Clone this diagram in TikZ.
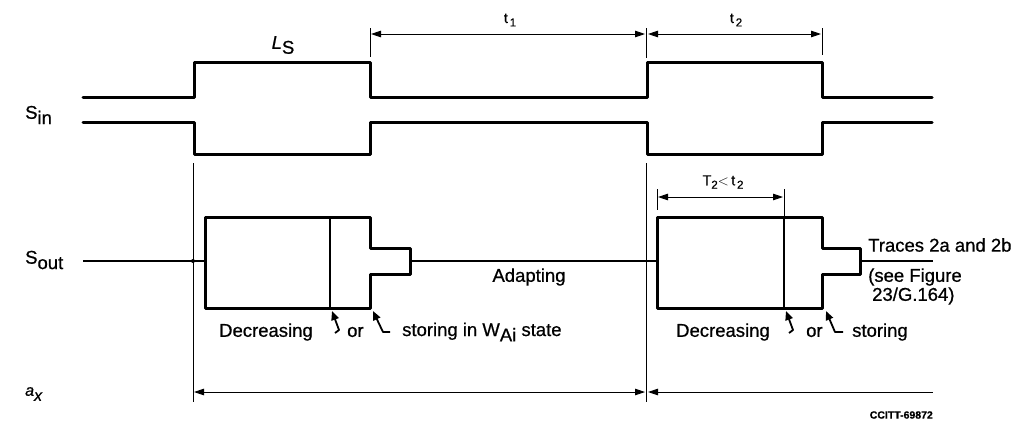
\documentclass[tikz,border=0pt]{standalone}
\usepackage{fontspec}
\setmainfont{Liberation Sans}[FakeBold=0.7]
\usetikzlibrary{arrows.meta}
\begin{document}
\begin{tikzpicture}[x=1pt,y=-1pt,
  sig/.style={line width=3pt,line join=round,line cap=round},
  thinline/.style={line width=1pt},
  outline/.style={line width=1.4pt},
  dimboth/.style={line width=0.9pt,{Triangle[length=10pt,width=6.5pt]}-{Triangle[length=10pt,width=6.5pt]}},
  dimleft/.style={line width=0.9pt,{Triangle[length=10pt,width=6.5pt]}-},
  hook/.style={line width=1.8pt,line join=round,{Triangle[length=9pt,width=7.5pt]}-},
  lbl/.style={font=\fontsize{18.5}{20}\selectfont,inner sep=0pt},
  sml/.style={font=\fontsize{14.5}{16}\selectfont,inner sep=0pt}]
\useasboundingbox (0,0) rectangle (1032,424);

% ---- S_in waveforms
\draw[sig] (83,97) -- (194,97) -- (194,62) -- (370,62) -- (370,97) -- (647,97) -- (647,62) -- (822,62) -- (822,97) -- (932,97);
\draw[sig] (83,122) -- (194,122) -- (194,154) -- (370,154) -- (370,122) -- (647,122) -- (647,154) -- (822,154) -- (822,122) -- (932,122);

% ---- ticks and dimension t1, t2
\coordinate (k1t) at (370,28); \coordinate (k1b) at (370,57);
\coordinate (k2t) at (646,28); \coordinate (k2b) at (646,58);
\coordinate (k3t) at (822,28); \coordinate (k3b) at (822,55);
\draw[thinline] (k1t) -- (k1b);
\draw[thinline] (k2t) -- (k2b);
\draw[thinline] (k3t) -- (k3b);
\coordinate (t1a) at (371,34); \coordinate (t1b) at (645,34);
\coordinate (t2a) at (648,34); \coordinate (t2b) at (821,34);
\draw[dimboth] (t1a) -- (t1b);
\draw[dimboth] (t2a) -- (t2b);
\node[sml] (t1) at (510,20) {t\raisebox{-0.45ex}{\fontsize{11.5}{12}\selectfont\,1}};
\node[sml] (t2) at (736,20) {t\raisebox{-0.45ex}{\fontsize{11.5}{12}\selectfont\,2}};
\node[lbl] (Ls) at (283,45) {\textit{L}\raisebox{-0.5ex}{S}};

% ---- vertical reference lines
\coordinate (v1t) at (193,163); \coordinate (v1b) at (193,402);
\coordinate (v2t) at (646,163); \coordinate (v2b) at (646,402);
\draw[thinline] (v1t) -- (v1b);
\draw[thinline] (v2t) -- (v2b);

% ---- S_out
\coordinate (o0) at (83,261);
\coordinate (o1) at (205,261);
\coordinate (o2) at (410,261);
\coordinate (o3) at (657,261);
\coordinate (o4) at (860,261);
\coordinate (o5) at (933,261);
\draw[outline] (o0) -- (o1);
\draw[outline] (o2) -- (o3);
\draw[outline] (o4) -- (o5);
\fill (193,261) circle (2pt);

\draw[sig] (205,217) -- (370,217) -- (370,248) -- (410,248) -- (410,274) -- (370,274) -- (370,308) -- (205,308) -- cycle;
\draw[line width=2.4pt] (330,217) -- (330,308);
\draw[sig] (657,217) -- (822,217) -- (822,248) -- (860,248) -- (860,274) -- (822,274) -- (822,308) -- (657,308) -- cycle;
\draw[line width=2.4pt] (784,217) -- (784,308);

% ---- T2 < t2
\coordinate (T2at) at (657,189); \coordinate (T2ab) at (657,210);
\coordinate (T2bt) at (784,189);
\draw[thinline] (T2at) -- (T2ab);
\draw[thinline] (T2bt) -- (784,217);
\coordinate (T2a) at (658,197); \coordinate (T2b) at (783,197);
\draw[dimboth] (T2a) -- (T2b);
\node[sml] (T2) at (723,182) {T\raisebox{-0.45ex}{\fontsize{11.5}{12}\selectfont 2}$<$\,t\raisebox{-0.45ex}{\fontsize{11.5}{12}\selectfont\,2}};

% ---- labels left
\node[lbl,anchor=west] (Sin) at (25,115) {S\raisebox{-0.55ex}{in}};
\node[lbl,anchor=west] (Sout) at (25,260) {S\raisebox{-0.55ex}{out}};
\node[anchor=west,inner sep=0pt] (ax) at (25,394) {\fontsize{16}{18}\selectfont\textit{a}\raisebox{-0.6ex}{\textit{x}}};

% ---- texts
\node[lbl] (adapt) at (529,277) {Adapting};
\node[lbl,anchor=west] (tr1) at (868,245) {Traces 2a and 2b};
\node[lbl,anchor=west] (tr2) at (868,277) {(see Figure};
\node[lbl,anchor=west] (tr3) at (872,296) {23/G.164)};

\node[lbl,anchor=west] (dec1) at (219,332) {Decreasing};
\node[lbl,anchor=west] (or1) at (347,332) {or};
\node[lbl,anchor=west] (sto1) at (402,332) {storing in W\raisebox{-0.55ex}{Ai} state};
\node[lbl,anchor=west] (dec2) at (676,332) {Decreasing};
\node[lbl,anchor=west] (or2) at (806,332) {or};
\node[lbl,anchor=west] (sto2) at (852,332) {storing};

% ---- hook arrows
\draw[hook] (332,311) -- (339,330) -- (335,333);
\draw[hook] (373,311) -- (383,332) -- (390,332);
\draw[hook] (786,311) -- (793,330) -- (789,333);
\draw[hook] (826,311) -- (835,332) -- (843,332);

% ---- a_x dimension
\coordinate (a1) at (194,392); \coordinate (a2) at (645,392);
\coordinate (a3) at (648,392); \coordinate (a4) at (933,392);
\draw[dimboth] (a1) -- (a2);
\draw[dimleft] (a3) -- (a4);

\node[anchor=east,inner sep=0pt,font=\fontsize{10.5}{12}\selectfont\bfseries] (ccitt) at (933,415) {CCITT-69872};
\end{tikzpicture}
\end{document}
